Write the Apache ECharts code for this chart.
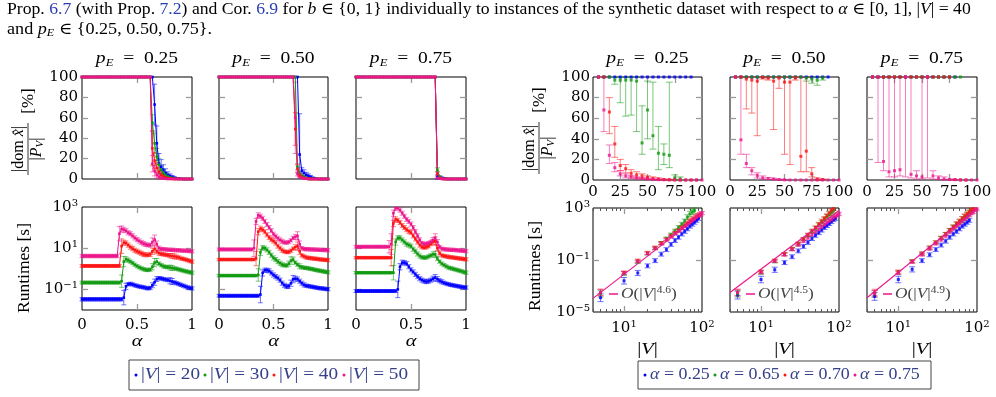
<!DOCTYPE html>
<html>
<head>
<meta charset="utf-8">
<script src="https://cdn.jsdelivr.net/npm/echarts@6/dist/echarts.min.js"></script>
<style>
  html, body { margin: 0; padding: 0; background: #fff; }
  #chart { width: 996px; height: 397px; }
</style>
</head>
<body>
<div id="chart"></div>
<script>
// ---- data: alpha grid (left panels) ----
const ALPHA = [0,0.02,0.04,0.06,0.08,0.1,0.12,0.14,0.16,0.18,0.2,0.22,0.24,0.26,0.28,0.3,0.32,0.34,0.36,0.38,
  0.4,0.42,0.44,0.46,0.48,0.5,0.52,0.54,0.56,0.58,0.6,0.62,0.64,0.66,0.68,0.7,0.72,0.74,0.76,0.78,
  0.8,0.82,0.84,0.86,0.88,0.9,0.92,0.94,0.96,0.98,1];

// dominated share [%], p_E = 0.25
const DOM_P25_V20 = [100,100,100,100,100,100,100,100,100,100, 100,100,100,100,100,100,100,100,100,100,
  100,100,100,100,100,100,100,100,100,100, 100,100,100,73,35,15,12,9,6,4, 3,2,1.2,0.7,0.4,0.2,0,0,0,0, 0];
const DOM_P25_V20_ERR = [0,0,0,0,0,0,0,0,0,0, 0,0,0,0,0,0,0,0,0,0, 0,0,0,0,0,0,0,0,0,0,
  0,0,0,20,17,10,7,5,4,3, 2,1.5,1,0.5,0.3,0.2,0,0,0,0, 0];
const DOM_P25_V30 = [100,100,100,100,100,100,100,100,100,100, 100,100,100,100,100,100,100,100,100,100,
  100,100,100,100,100,100,100,100,100,100, 100,100,55,35,22,14,9,6,4,2.5, 1.5,0.8,0.4,0.2,0,0,0,0,0,0, 0];
const DOM_P25_V30_ERR = [0,0,0,0,0,0,0,0,0,0, 0,0,0,0,0,0,0,0,0,0, 0,0,0,0,0,0,0,0,0,0,
  0,0,8,10,8,6,4,3,2,1.5, 1,0.5,0.3,0,0,0,0,0,0,0, 0];
const DOM_P25_V40 = [100,100,100,100,100,100,100,100,100,100, 100,100,100,100,100,100,100,100,100,100,
  100,100,100,100,100,100,100,100,100,100, 100,100,30,18,11,7,4,2.5,1.5,0.8, 0.4,0.2,0,0,0,0,0,0,0,0, 0];
const DOM_P25_V40_ERR = [0,0,0,0,0,0,0,0,0,0, 0,0,0,0,0,0,0,0,0,0, 0,0,0,0,0,0,0,0,0,0,
  0,0,17,8,5,4,3,2,1,0.5, 0.3,0,0,0,0,0,0,0,0,0, 0];
const DOM_P25_V50 = [100,100,100,100,100,100,100,100,100,100, 100,100,100,100,100,100,100,100,100,100,
  100,100,100,100,100,100,100,100,100,100, 100,100,15,8,4,2,1,0.5,0.2,0, 0,0,0,0,0,0,0,0,0,0, 0];
const DOM_P25_V50_ERR = [0,0,0,0,0,0,0,0,0,0, 0,0,0,0,0,0,0,0,0,0, 0,0,0,0,0,0,0,0,0,0,
  0,0,8,5,3,2,1,0.5,0,0, 0,0,0,0,0,0,0,0,0,0, 0];

// p_E = 0.50
const DOM_P50_V20 = [100,100,100,100,100,100,100,100,100,100, 100,100,100,100,100,100,100,100,100,100,
  100,100,100,100,100,100,100,100,100,100, 100,100,100,100,100,100,100,24,8,6, 4,3,2,1,0.5,0.2,0,0,0,0, 0];
const DOM_P50_V20_ERR = [0,0,0,0,0,0,0,0,0,0, 0,0,0,0,0,0,0,0,0,0, 0,0,0,0,0,0,0,0,0,0,
  0,0,0,0,0,0,0,40,3,3, 2.5,2,1.5,1,0.5,0.3,0,0,0,0, 0];
const DOM_P50_V30 = [100,100,100,100,100,100,100,100,100,100, 100,100,100,100,100,100,100,100,100,100,
  100,100,100,100,100,100,100,100,100,100, 100,100,100,100,100,100,12,5,3,2, 1,0.5,0,0,0,0,0,0,0,0, 0];
const DOM_P50_V30_ERR = [0,0,0,0,0,0,0,0,0,0, 0,0,0,0,0,0,0,0,0,0, 0,0,0,0,0,0,0,0,0,0,
  0,0,0,0,0,0,3,2,1.5,1, 0.5,0.3,0,0,0,0,0,0,0,0, 0];
const DOM_P50_V40 = [100,100,100,100,100,100,100,100,100,100, 100,100,100,100,100,100,100,100,100,100,
  100,100,100,100,100,100,100,100,100,100, 100,100,100,100,100,49,10,4,2,1, 0.5,0,0,0,0,0,0,0,0,0, 0];
const DOM_P50_V40_ERR = [0,0,0,0,0,0,0,0,0,0, 0,0,0,0,0,0,0,0,0,0, 0,0,0,0,0,0,0,0,0,0,
  0,0,0,0,0,16,4,2,1,0.5, 0.3,0,0,0,0,0,0,0,0,0, 0];
const DOM_P50_V50 = [100,100,100,100,100,100,100,100,100,100, 100,100,100,100,100,100,100,100,100,100,
  100,100,100,100,100,100,100,100,100,100, 100,100,100,100,100,60,5,2,1,0.5, 0.2,0,0,0,0,0,0,0,0,0, 0];
const DOM_P50_V50_ERR = [0,0,0,0,0,0,0,0,0,0, 0,0,0,0,0,0,0,0,0,0, 0,0,0,0,0,0,0,0,0,0,
  0,0,0,0,0,35,2,1,0.5,0.3, 0,0,0,0,0,0,0,0,0,0, 0];

// p_E = 0.75
const DOM_P75_V20 = [100,100,100,100,100,100,100,100,100,100, 100,100,100,100,100,100,100,100,100,100,
  100,100,100,100,100,100,100,100,100,100, 100,100,100,100,100,100,100,2,1.5,1, 0.5,0.2,0,0,0,0,0,0,0,0, 0];
const DOM_P75_V20_ERR = [0,0,0,0,0,0,0,0,0,0, 0,0,0,0,0,0,0,0,0,0, 0,0,0,0,0,0,0,0,0,0,
  0,0,0,0,0,0,0,2,1.5,1, 0.5,0.2,0,0,0,0,0,0,0,0, 0];
const DOM_P75_V30 = [100,100,100,100,100,100,100,100,100,100, 100,100,100,100,100,100,100,100,100,100,
  100,100,100,100,100,100,100,100,100,100, 100,100,100,100,100,100,100,9,2,0.5, 0,0,0,0,0,0,0,0,0,0, 0];
const DOM_P75_V30_ERR = [0,0,0,0,0,0,0,0,0,0, 0,0,0,0,0,0,0,0,0,0, 0,0,0,0,0,0,0,0,0,0,
  0,0,0,0,0,0,0,2,1,0.3, 0,0,0,0,0,0,0,0,0,0, 0];
const DOM_P75_V40 = [100,100,100,100,100,100,100,100,100,100, 100,100,100,100,100,100,100,100,100,100,
  100,100,100,100,100,100,100,100,100,100, 100,100,100,100,100,100,100,5,1,0.3, 0,0,0,0,0,0,0,0,0,0, 0];
const DOM_P75_V40_ERR = [0,0,0,0,0,0,0,0,0,0, 0,0,0,0,0,0,0,0,0,0, 0,0,0,0,0,0,0,0,0,0,
  0,0,0,0,0,0,0,2,0.5,0, 0,0,0,0,0,0,0,0,0,0, 0];
const DOM_P75_V50 = [100,100,100,100,100,100,100,100,100,100, 100,100,100,100,100,100,100,100,100,100,
  100,100,100,100,100,100,100,100,100,100, 100,100,100,100,100,100,100,1,0.3,0, 0,0,0,0,0,0,0,0,0,0, 0];
const DOM_P75_V50_ERR = [0,0,0,0,0,0,0,0,0,0, 0,0,0,0,0,0,0,0,0,0, 0,0,0,0,0,0,0,0,0,0,
  0,0,0,0,0,0,0,0.8,0.2,0, 0,0,0,0,0,0,0,0,0,0, 0];

// runtimes, log10 of seconds, p_E = 0.25
const RUN_P25_V20 = [-1.48,-1.48,-1.48,-1.48,-1.48,-1.48,-1.48,-1.48,-1.48,-1.48,
  -1.48,-1.48,-1.48,-1.48,-1.48,-1.48,-1.48,-1.48,-1.48,-1.4,
  -0.85,-0.75,-0.73,-0.76,-0.8,-0.83,-0.86,-0.88,-0.9,-0.93,
  -0.95,-0.93,-0.8,-0.65,-0.5,-0.46,-0.47,-0.5,-0.52,-0.55,
  -0.58,-0.62,-0.66,-0.7,-0.74,-0.78,-0.82,-0.86,-0.9,-0.93, -0.95];
const RUN_P25_V20_ERR = [0.08,0.08,0.08,0.08,0.08,0.08,0.08,0.08,0.08,0.08,
  0.08,0.08,0.08,0.08,0.08,0.08,0.08,0.08,0.08,0.35,
  0.15,0.08,0.08,0.08,0.08,0.08,0.08,0.08,0.08,0.08,
  0.08,0.08,0.12,0.15,0.12,0.08,0.08,0.08,0.08,0.08,
  0.15,0.15,0.08,0.08,0.08,0.08,0.08,0.08,0.08,0.08, 0.08];
const RUN_P25_V30 = [-0.67,-0.67,-0.67,-0.67,-0.67,-0.67,-0.67,-0.67,-0.67,-0.67,
  -0.67,-0.67,-0.67,-0.67,-0.67,-0.67,-0.67,-0.67,-0.6,0.35,
  0.46,0.42,0.35,0.28,0.2,0.13,0.07,0.02,-0.02,-0.05,
  -0.06,-0.04,0.1,0.3,0.35,0.25,0.18,0.12,0.09,0.08,
  0.06,0.04,0.02,0,-0.03,-0.06,-0.09,-0.12,-0.14,-0.17, -0.19];
const RUN_P25_V30_ERR = [0.07,0.07,0.07,0.07,0.07,0.07,0.07,0.07,0.07,0.07,
  0.07,0.07,0.07,0.07,0.07,0.07,0.07,0.07,0.3,0.25,
  0.12,0.1,0.08,0.08,0.08,0.08,0.08,0.08,0.08,0.08,
  0.08,0.08,0.15,0.2,0.15,0.08,0.08,0.08,0.08,0.08,
  0.12,0.12,0.08,0.08,0.08,0.08,0.08,0.08,0.08,0.08, 0.08];
const RUN_P25_V40 = [0.14,0.14,0.14,0.14,0.14,0.14,0.14,0.14,0.14,0.14,
  0.14,0.14,0.14,0.14,0.14,0.14,0.14,0.14,1.1,1.27,
  1.25,1.15,1.05,0.98,0.9,0.85,0.8,0.75,0.7,0.68,
  0.67,0.7,0.85,0.96,0.85,0.76,0.72,0.7,0.68,0.66,
  0.64,0.62,0.6,0.57,0.55,0.5,0.48,0.45,0.42,0.38, 0.35];
const RUN_P25_V40_ERR = [0.07,0.07,0.07,0.07,0.07,0.07,0.07,0.07,0.07,0.07,
  0.07,0.07,0.07,0.07,0.07,0.07,0.07,0.07,0.35,0.12,
  0.1,0.1,0.1,0.1,0.1,0.1,0.1,0.1,0.1,0.1,
  0.08,0.1,0.15,0.18,0.12,0.1,0.08,0.08,0.08,0.08,
  0.1,0.12,0.12,0.1,0.08,0.08,0.08,0.08,0.08,0.08, 0.08];
const RUN_P25_V50 = [0.62,0.62,0.62,0.62,0.62,0.62,0.62,0.62,0.62,0.62,
  0.62,0.62,0.62,0.62,0.62,0.62,0.62,1.7,1.93,1.9,
  1.85,1.75,1.7,1.6,1.5,1.42,1.35,1.28,1.22,1.18,
  1.15,1.15,1.3,1.42,1.2,1.0,0.96,0.95,0.94,0.93,
  0.92,0.92,0.91,0.9,0.9,0.89,0.88,0.88,0.87,0.86, 0.85];
const RUN_P25_V50_ERR = [0.08,0.08,0.08,0.08,0.08,0.08,0.08,0.08,0.08,0.08,
  0.08,0.08,0.08,0.08,0.08,0.08,0.08,0.35,0.15,0.12,
  0.1,0.1,0.1,0.1,0.1,0.1,0.1,0.1,0.1,0.1,
  0.08,0.1,0.2,0.22,0.15,0.1,0.08,0.08,0.08,0.08,
  0.08,0.08,0.08,0.08,0.08,0.08,0.08,0.08,0.08,0.08, 0.08];

// p_E = 0.50
const RUN_P50_V20 = [-1.31,-1.31,-1.31,-1.31,-1.31,-1.31,-1.31,-1.31,-1.31,-1.31,
  -1.31,-1.31,-1.31,-1.31,-1.31,-1.31,-1.31,-1.31,-1.31,-1.25,
  -0.2,-0.07,-0.07,-0.1,-0.2,-0.3,-0.38,-0.45,-0.55,-0.7,
  -0.8,-0.86,-0.85,-0.7,-0.5,-0.48,-0.5,-0.6,-0.7,-0.78,
  -0.82,-0.84,-0.86,-0.88,-0.9,-0.92,-0.94,-0.95,-0.96,-0.98, -0.99];
const RUN_P50_V20_ERR = [0.07,0.07,0.07,0.07,0.07,0.07,0.07,0.07,0.07,0.07,
  0.07,0.07,0.07,0.07,0.07,0.07,0.07,0.07,0.07,0.4,
  0.15,0.1,0.1,0.1,0.1,0.1,0.1,0.1,0.1,0.1,
  0.1,0.1,0.1,0.15,0.18,0.12,0.1,0.1,0.1,0.1,
  0.08,0.08,0.08,0.08,0.08,0.08,0.08,0.08,0.08,0.08, 0.08];
const RUN_P50_V30 = [-0.33,-0.33,-0.33,-0.33,-0.33,-0.33,-0.33,-0.33,-0.33,-0.33,
  -0.33,-0.33,-0.33,-0.33,-0.33,-0.33,-0.33,-0.33,-0.3,0.8,
  1.02,1.0,0.92,0.8,0.66,0.53,0.45,0.35,0.27,0.2,
  0.17,0.16,0.25,0.4,0.45,0.3,0.2,0.12,0.08,0.05,
  0.04,0.02,0,-0.02,-0.05,-0.07,-0.09,-0.11,-0.13,-0.15, -0.17];
const RUN_P50_V30_ERR = [0.06,0.06,0.06,0.06,0.06,0.06,0.06,0.06,0.06,0.06,
  0.06,0.06,0.06,0.06,0.06,0.06,0.06,0.06,0.3,0.15,
  0.1,0.1,0.1,0.1,0.1,0.1,0.1,0.1,0.1,0.1,
  0.08,0.08,0.12,0.18,0.12,0.08,0.08,0.12,0.08,0.08,
  0.08,0.08,0.08,0.08,0.08,0.08,0.08,0.08,0.08,0.08, 0.08];
const RUN_P50_V40 = [0.45,0.45,0.45,0.45,0.45,0.45,0.45,0.45,0.45,0.45,
  0.45,0.45,0.45,0.45,0.45,0.45,0.45,0.5,1.8,1.95,
  1.9,1.8,1.65,1.52,1.42,1.35,1.25,1.1,1.0,0.9,
  0.84,0.81,0.82,0.88,0.98,1.05,1.1,0.85,0.65,0.6,
  0.55,0.53,0.52,0.5,0.49,0.48,0.46,0.45,0.44,0.43, 0.42];
const RUN_P50_V40_ERR = [0.06,0.06,0.06,0.06,0.06,0.06,0.06,0.06,0.06,0.06,
  0.06,0.06,0.06,0.06,0.06,0.06,0.06,0.35,0.15,0.12,
  0.1,0.1,0.1,0.1,0.1,0.1,0.1,0.1,0.1,0.1,
  0.08,0.08,0.08,0.08,0.08,0.12,0.2,0.15,0.08,0.08,
  0.08,0.08,0.08,0.08,0.08,0.08,0.08,0.08,0.08,0.08, 0.08];
const RUN_P50_V50 = [0.94,0.94,0.94,0.94,0.94,0.94,0.94,0.94,0.94,0.94,
  0.94,0.94,0.94,0.94,0.94,0.94,1.0,2.3,2.6,2.55,
  2.45,2.3,2.15,2.0,1.85,1.68,1.58,1.48,1.4,1.33,
  1.28,1.27,1.3,1.38,1.5,1.55,1.6,1.2,1.0,0.96,
  0.95,0.95,0.94,0.94,0.93,0.93,0.92,0.92,0.91,0.91, 0.9];
const RUN_P50_V50_ERR = [0.07,0.07,0.07,0.07,0.07,0.07,0.07,0.07,0.07,0.07,
  0.07,0.07,0.07,0.07,0.07,0.07,0.4,0.15,0.12,0.1,
  0.1,0.1,0.1,0.1,0.1,0.1,0.1,0.1,0.1,0.1,
  0.08,0.08,0.08,0.08,0.08,0.12,0.2,0.15,0.08,0.08,
  0.08,0.08,0.08,0.08,0.08,0.08,0.08,0.08,0.08,0.08, 0.08];

// p_E = 0.75
const RUN_P75_V20 = [-1.08,-1.08,-1.08,-1.08,-1.08,-1.08,-1.08,-1.08,-1.08,-1.08,
  -1.08,-1.08,-1.08,-1.08,-1.08,-1.08,-1.08,-1.08,-1.08,-1.0,
  0.1,0.3,0.3,0.25,0.1,-0.05,-0.15,-0.27,-0.38,-0.48,
  -0.55,-0.6,-0.62,-0.6,-0.55,-0.48,-0.43,-0.5,-0.58,-0.63,
  -0.68,-0.72,-0.75,-0.78,-0.8,-0.82,-0.84,-0.86,-0.88,-0.9, -0.91];
const RUN_P75_V20_ERR = [0.07,0.07,0.07,0.07,0.07,0.07,0.07,0.07,0.07,0.07,
  0.07,0.07,0.07,0.07,0.07,0.07,0.07,0.07,0.07,0.4,
  0.15,0.12,0.1,0.1,0.1,0.1,0.1,0.1,0.1,0.1,
  0.1,0.1,0.1,0.1,0.1,0.12,0.15,0.12,0.1,0.1,
  0.08,0.08,0.08,0.08,0.08,0.08,0.08,0.08,0.08,0.08, 0.08];
const RUN_P75_V30 = [-0.19,-0.19,-0.19,-0.19,-0.19,-0.19,-0.19,-0.19,-0.19,-0.19,
  -0.19,-0.19,-0.19,-0.19,-0.19,-0.19,-0.19,-0.19,1.3,1.5,
  1.5,1.4,1.3,1.2,1.15,1.1,0.95,0.85,0.72,0.62,
  0.56,0.54,0.55,0.6,0.65,0.7,0.7,0.5,0.35,0.25,
  0.18,0.12,0.06,0.03,0,-0.03,-0.06,-0.09,-0.12,-0.16, -0.19];
const RUN_P75_V30_ERR = [0.06,0.06,0.06,0.06,0.06,0.06,0.06,0.06,0.06,0.06,
  0.06,0.06,0.06,0.06,0.06,0.06,0.06,0.35,0.15,0.1,
  0.1,0.1,0.1,0.1,0.1,0.1,0.1,0.1,0.1,0.1,
  0.08,0.08,0.08,0.08,0.08,0.12,0.15,0.1,0.08,0.08,
  0.08,0.08,0.08,0.08,0.08,0.08,0.08,0.08,0.08,0.08, 0.08];
const RUN_P75_V40 = [0.54,0.54,0.54,0.54,0.54,0.54,0.54,0.54,0.54,0.54,
  0.54,0.54,0.54,0.54,0.54,0.54,0.54,2.2,2.4,2.35,
  2.25,2.1,2.0,1.9,1.82,1.76,1.6,1.45,1.3,1.15,
  1.05,1.03,1.05,1.1,1.2,1.3,1.35,1.0,0.75,0.65,
  0.62,0.6,0.58,0.56,0.55,0.53,0.52,0.5,0.49,0.47, 0.46];
const RUN_P75_V40_ERR = [0.06,0.06,0.06,0.06,0.06,0.06,0.06,0.06,0.06,0.06,
  0.06,0.06,0.06,0.06,0.06,0.06,0.4,0.15,0.12,0.1,
  0.1,0.1,0.1,0.1,0.1,0.1,0.1,0.1,0.1,0.1,
  0.08,0.08,0.08,0.08,0.08,0.12,0.2,0.12,0.08,0.08,
  0.08,0.08,0.08,0.08,0.08,0.08,0.08,0.08,0.08,0.08, 0.08];
const RUN_P75_V50 = [1.07,1.07,1.07,1.07,1.07,1.07,1.07,1.07,1.07,1.07,
  1.07,1.07,1.07,1.07,1.07,1.07,1.2,2.7,2.95,2.95,
  2.85,2.7,2.55,2.4,2.3,2.17,2.0,1.8,1.6,1.4,
  1.25,1.2,1.22,1.25,1.3,1.4,1.5,1.3,1.05,0.98,
  0.95,0.94,0.93,0.92,0.92,0.91,0.9,0.89,0.88,0.87, 0.86];
const RUN_P75_V50_ERR = [0.07,0.07,0.07,0.07,0.07,0.07,0.07,0.07,0.07,0.07,
  0.07,0.07,0.07,0.07,0.07,0.3,0.5,0.15,0.1,0.1,
  0.1,0.1,0.1,0.1,0.1,0.1,0.1,0.1,0.1,0.1,
  0.08,0.08,0.08,0.08,0.08,0.12,0.2,0.12,0.08,0.08,
  0.08,0.08,0.08,0.08,0.08,0.08,0.08,0.08,0.08,0.08, 0.08];

// ---- data: |V| grid (right panels) ----
const V_SIZES = [5,10,15,20,25,30,35,40,45,50,55,60,65,70,75,80,85,90,95,100];

// dominated share [%] with lower / upper bar ends
const FRAC_P25_A25 = [100,100,100,100,100,100,100,100,100,100,100,100,100,100,100,100,100,100,null,null];
const FRAC_P25_A65 = [100,100,100,97,97,97,97,96,36,68,43,26,25,24,2,1,null,null,null,null];
const FRAC_P25_A65_LO = [100,100,100,93,75,62,63,47,25,40,30,10,15,12,0,0,null,null,null,null];
const FRAC_P25_A65_HI = [100,100,100,100,100,100,100,100,72,96,95,52,35,95,5,3,null,null,null,null];
const FRAC_P25_A70 = [100,100,66,35,14,11,6.5,5,4,2.5,1.5,1,0.5,0.3,0.2,0,0,0,0,null];
const FRAC_P25_A70_LO = [100,100,45,22,9,7,3,2,1.5,1,0.5,0.3,0,0,0,0,0,0,0,null];
const FRAC_P25_A70_HI = [100,100,80,52,20,15,10,8,6,4,3,2,1,0.6,0.4,0,0,0,0,null];
const FRAC_P25_A75 = [100,68,24,12,6,4,3,2,1.5,1,0.5,0.3,0.2,0.1,0,0,0,0,0,0];
const FRAC_P25_A75_LO = [100,47,16,8,4,2,1.5,1,0.5,0.3,0.2,0.1,0,0,0,0,0,0,0,0];
const FRAC_P25_A75_HI = [100,100,34,17,9,6,4.5,3,2.5,1.7,1,0.6,0.4,0.2,0,0,0,0,0,0];

const FRAC_P50_A25 = [100,100,100,100,100,100,100,100,100,100,100,100,100,100,100,100,100,100,null,null];
const FRAC_P50_A65 = [100,100,100,100,100,100,100,100,100,100,100,100,100,99,98,97,99,null,null,null];
const FRAC_P50_A65_LO = [100,100,100,100,100,100,100,100,100,100,100,100,100,96,94,92,97,null,null,null];
const FRAC_P50_A65_HI = [100,100,100,100,100,100,100,100,100,100,100,100,100,100,100,100,100,null,null,null];
const FRAC_P50_A70 = [100,100,98,97,96,99.5,99,96,99,95,95,99,23,28,6,1,0.5,null,null,null];
const FRAC_P50_A70_LO = [100,100,69,65,43,98,97,49,89,25,15,97,8,8,3,0,0,null,null,null];
const FRAC_P50_A70_HI = [100,100,100,100,100,100,100,100,100,100,100,100,100,100,12,2,1,null,null,null];
const FRAC_P50_A75 = [100,39,16,9,4.5,2,1.5,1,0.5,0.2,0,0,0,0,0,0,0,0,0,0];
const FRAC_P50_A75_LO = [100,25,12,5,2,1,0.5,0.3,0.1,0,0,0,0,0,0,0,0,0,0,0];
const FRAC_P50_A75_HI = [100,100,25,12,7,4,2.5,1.7,1,0.5,0,0,0,0,0,0,0,0,0,0];

const FRAC_P75_A25 = [100,100,100,100,100,100,100,100,100,100,100,100,100,100,100,100,null,null,null,null];
const FRAC_P75_A65 = [100,100,100,100,100,100,100,100,100,100,100,100,100,100,100,100,100,null,null,null];
const FRAC_P75_A70 = [100,100,100,100,100,100,100,100,100,100,100,100,100,100,100,0.5,0.2,0,null,null];
const FRAC_P75_A75 = [100,100,18,8,9,10,100,5.5,4,3,100,4,2,1,0.5,0.3,0,0,0,0];
const FRAC_P75_A75_LO = [100,17,9,3,3,4,3,2,1,1,2,1,0.5,0.2,0,0,0,0,0,0];
const FRAC_P75_A75_HI = [100,100,100,100,100,100,100,100,9,100,100,9,4,3,1,0.5,0,0,0,0];

// runtimes vs |V|, log10 of seconds
const TIME_P25_A25 = [-3.9,-2.6,-2.0,-1.45,-1.05,-0.55,-0.2,0.2,0.5,0.75,1.0,1.2,1.4,1.6,1.75,1.9,2.05,2.2,null,null];
const TIME_P25_A65 = [-3.6,-2.05,-1.15,-0.5,-0.1,0.3,0.65,0.95,1.25,1.5,1.75,2.0,2.3,2.55,2.7,2.8,null,null,null,null];
const TIME_P25_A70 = [-3.5,-1.97,-1.05,-0.45,-0.05,0.3,0.6,0.87,1.1,1.3,1.5,1.67,1.83,1.98,2.1,2.22,2.33,2.43,2.53,null];
const TIME_P25_A75 = [-3.5,-2.0,-1.1,-0.5,-0.1,0.25,0.55,0.8,1.05,1.25,1.45,1.6,1.75,1.9,2.05,2.15,2.3,2.4,2.5,2.6];
const TIME_P50_A25 = [-3.7,-2.5,-1.75,-1.2,-0.75,-0.3,0.05,0.35,0.65,0.9,1.1,1.3,1.5,1.65,1.8,1.95,2.1,2.2,null,null];
const TIME_P50_A65 = [-3.6,-1.95,-1.1,-0.55,-0.15,0.25,0.6,0.9,1.2,1.45,1.7,1.9,2.1,2.3,2.5,2.65,2.8,null,null,null];
const TIME_P50_A70 = [-3.5,-1.9,-1.05,-0.55,-0.15,0.25,0.6,0.95,1.25,1.5,1.75,2.0,2.2,2.4,2.6,2.8,2.95,null,null,null];
const TIME_P50_A75 = [-3.5,-1.95,-1.1,-0.6,-0.2,0.15,0.45,0.7,0.95,1.15,1.35,1.55,1.7,1.85,2.0,2.1,2.25,2.35,2.45,2.55];
const TIME_P75_A25 = [-3.8,-2.5,-1.72,-1.05,-0.6,-0.2,0.15,0.45,0.75,1.0,1.2,1.4,1.6,1.75,1.9,2.05,null,null,null,null];
const TIME_P75_A65 = [-3.6,-1.95,-1.1,-0.5,-0.05,0.35,0.7,1.0,1.3,1.55,1.75,1.95,2.15,2.3,2.45,2.6,2.75,null,null,null];
const TIME_P75_A70 = [-3.5,-1.9,-1.1,-0.5,-0.05,0.35,0.7,1.0,1.3,1.55,1.8,2.0,2.2,2.4,2.55,2.7,2.85,2.95,null,null];
const TIME_P75_A75 = [-3.6,-2.0,-1.15,-0.6,-0.15,0.25,0.55,0.85,1.15,1.4,1.6,1.8,2.0,2.15,2.3,2.45,2.6,2.7,2.85,2.95];
const TIME_ERR_A25 = [0.3,0.25,0.2,0.15,0.15,0.15,0.15,0.15,0.15,0.15,0.15,0.15,0.15,0.15,0.15,0.15,0.15,0.15,0.15,0.15];
const TIME_ERR_A65 = [0.25,0.15,0.12,0.12,0.12,0.12,0.12,0.12,0.12,0.15,0.15,0.15,0.18,0.2,0.2,0.2,0.2,0.2,0.2,0.2];
const TIME_ERR_A70 = [0.25,0.12,0.12,0.12,0.12,0.12,0.12,0.12,0.12,0.12,0.15,0.15,0.15,0.15,0.15,0.15,0.15,0.15,0.15,0.15];
const TIME_ERR_A75 = [0.25,0.12,0.1,0.1,0.1,0.1,0.1,0.1,0.1,0.12,0.12,0.12,0.12,0.12,0.12,0.12,0.12,0.12,0.12,0.12];

// fitted power laws: end points at |V| = 4 and 100 (log10 seconds)
const FIT_V = [4, 100];
const FIT_P25 = [-3.95, 2.55];
const FIT_P50 = [-3.5, 2.8];
const FIT_P75 = [-3.9, 2.95];
const FIT_EXP = ['4.6', '4.5', '4.9'];

const P_LABELS = ['0.25', '0.50', '0.75'];
const V_LEGEND = ['20', '30', '40', '50'];
const A_LEGEND = ['0.25', '0.65', '0.70', '0.75'];
const DOM_TICKS = [0, 20, 40, 60, 80, 100];
const SIZE_TICKS = [0, 25, 50, 75, 100];
const MINOR_V = [4, 5, 6, 7, 8, 9, 20, 30, 40, 50, 60, 70, 80, 90];

// ---- styles ----
const FONT = '"Liberation Serif", "DejaVu Serif", serif';
const TICK_FONT = '"DejaVu Serif", serif';
const INK = '#000';
const LINK = '#2b3fb3';
const LEGEND_INK = '#36408a';
const COLORS = ['#0000ff', '#109a10', '#ff1414', '#ec168c'];
const TICK_GRAY = '#9a9a9a';
const WIDE = 1.2;   // reference text runs wide

function tok(size, extra) {
  return Object.assign({fontFamily: FONT, fontSize: size, color: INK, fill: INK}, extra || {});
}
const RICH = {
  a: tok(15, {fontFamily: TICK_FONT, lineHeight: 18}),
  asup: tok(10, {fontFamily: TICK_FONT, lineHeight: 11, verticalAlign: 'top'}),
  n: tok(17, {lineHeight: 20}),
  i: tok(17, {lineHeight: 20, fontStyle: 'italic'}),
  sub: tok(11, {lineHeight: 10, fontStyle: 'italic', verticalAlign: 'bottom'}),
  ci: tok(16.5, {fontStyle: 'italic'}),
  cl: tok(16.5, {color: LINK, fill: LINK}),
  csub: tok(11, {lineHeight: 9, fontStyle: 'italic', verticalAlign: 'bottom'}),
  t: tok(16, {lineHeight: 17}),
  ti: tok(16, {lineHeight: 17, fontStyle: 'italic'}),
  tsub: tok(11, {lineHeight: 9, fontStyle: 'italic', verticalAlign: 'bottom'}),
  g: tok(16, {lineHeight: 20, color: LEGEND_INK, fill: LEGEND_INK}),
  gi: tok(16, {lineHeight: 20, fontStyle: 'italic', color: LEGEND_INK, fill: LEGEND_INK}),
  f: tok(15, {lineHeight: 18, color: '#444', fill: '#444'}),
  fi: tok(15, {lineHeight: 18, fontStyle: 'italic', color: '#444', fill: '#444'}),
  fsup: tok(10, {lineHeight: 10, verticalAlign: 'top', color: '#444', fill: '#444'})
};

const numFmt = v => '{a|' + v + '}';
const powFmt = v => '{a|10}{asup|' + (v < 0 ? '\u2212' + (-v) : v) + '}';

// ---- layout builders ----
const grids = [], xAxes = [], yAxes = [], series = [];

function addGrid(left, top, width, height) {
  grids.push({left, top, width, height, show: true, borderColor: '#000', borderWidth: 1,
    backgroundColor: 'rgba(0,0,0,0)'});
  return grids.length - 1;
}

function addAxis(list, g, position, min, max, ticks, labels, fmt, margin, tick) {
  tick = tick || {};
  list.push({
    type: 'value', gridIndex: g, position, min, max,
    axisLine: {show: false, onZero: false},
    splitLine: {show: false},
    axisTick: ticks ? {show: true, inside: true, customValues: ticks, length: tick.len || 6,
      lineStyle: {color: tick.color || TICK_GRAY, width: tick.width || 1.3}} : {show: false},
    axisLabel: labels ? {show: true, customValues: labels, formatter: fmt, margin,
      color: INK, fontFamily: TICK_FONT, fontSize: 15, rich: RICH} : {show: false},
    axisPointer: {show: false}
  });
  return list.length - 1;
}

function errorSeries(xi, yi, rows, color, cap) {
  return {
    type: 'custom', xAxisIndex: xi, yAxisIndex: yi, data: rows, silent: true, animation: false,
    encode: {x: 0, y: [1, 2]},
    renderItem(params, api) {
      const cs = params.coordSys;
      const x = api.value(0), lo = api.value(1), hi = api.value(2);
      const pTop = api.coord([x, hi]), pBot = api.coord([x, lo]);
      const yMin = cs.y, yMax = cs.y + cs.height;
      const y1 = Math.max(yMin, pTop[1]), y2 = Math.min(yMax, pBot[1]);
      if (y2 - y1 < 0.5) return null;
      const st = {stroke: color, lineWidth: 1, opacity: 0.55};
      const kids = [{type: 'line', shape: {x1: pTop[0], y1, x2: pTop[0], y2}, style: st}];
      if (pTop[1] >= yMin - 0.5) kids.push({type: 'line', shape: {x1: pTop[0] - cap, y1: pTop[1], x2: pTop[0] + cap, y2: pTop[1]}, style: st});
      if (pBot[1] <= yMax + 0.5) kids.push({type: 'line', shape: {x1: pBot[0] - cap, y1: pBot[1], x2: pBot[0] + cap, y2: pBot[1]}, style: st});
      return {type: 'group', children: kids};
    }
  };
}

function markSeries(xi, yi, pts, color, joined) {
  const s = {
    type: joined ? 'line' : 'scatter', xAxisIndex: xi, yAxisIndex: yi, data: pts, symbol: 'rect',
    symbolSize: joined ? 2.6 : 3, clip: false, silent: true, animation: false, itemStyle: {color}
  };
  if (joined) Object.assign(s, {showSymbol: true, showAllSymbol: true, lineStyle: {color, width: 1}});
  return s;
}

// a panel: grid, four axes, error bars and marks per series
function addPanel(box, xr, yr, xTicks, yTicks, xLabels, xFmt, xMargin, yLabels, yFmt, yMargin, curves, cap, joined) {
  const g = addGrid(box[0], box[1], box[2], box[3]);
  const xb = addAxis(xAxes, g, 'bottom', xr[0], xr[1], xTicks, xLabels, xFmt, xMargin);
  addAxis(xAxes, g, 'top', xr[0], xr[1], xTicks, null);
  const yl = addAxis(yAxes, g, 'left', yr[0], yr[1], yTicks, yLabels, yFmt, yMargin);
  addAxis(yAxes, g, 'right', yr[0], yr[1], yTicks, null);
  curves.forEach((c, k) => {
    const pts = [], rows = [];
    c.x.forEach((x, i) => {
      const v = c.y[i];
      if (v === null || v === undefined) return;
      pts.push([x, v]);
      let lo = null, hi = null;
      if (c.err) { lo = v - c.err[i]; hi = v + c.err[i]; }
      else if (c.lo) { lo = c.lo[i]; hi = c.hi[i]; }
      if (lo !== null && hi > lo) rows.push([x, lo, hi]);
    });
    if (rows.length) series.push(errorSeries(xb, yl, rows, COLORS[k], cap));
    series.push(markSeries(xb, yl, pts, COLORS[k], joined));
  });
  return {g, xb, yl};
}

const LEFT_COLS = [[82, 110], [219, 109], [356, 110]];
const RIGHT_COLS = [[593, 109], [730, 109], [867, 110]];

const DOM = [
  [[DOM_P25_V20, DOM_P25_V20_ERR], [DOM_P25_V30, DOM_P25_V30_ERR], [DOM_P25_V40, DOM_P25_V40_ERR], [DOM_P25_V50, DOM_P25_V50_ERR]],
  [[DOM_P50_V20, DOM_P50_V20_ERR], [DOM_P50_V30, DOM_P50_V30_ERR], [DOM_P50_V40, DOM_P50_V40_ERR], [DOM_P50_V50, DOM_P50_V50_ERR]],
  [[DOM_P75_V20, DOM_P75_V20_ERR], [DOM_P75_V30, DOM_P75_V30_ERR], [DOM_P75_V40, DOM_P75_V40_ERR], [DOM_P75_V50, DOM_P75_V50_ERR]]
];
const RUN = [
  [[RUN_P25_V20, RUN_P25_V20_ERR], [RUN_P25_V30, RUN_P25_V30_ERR], [RUN_P25_V40, RUN_P25_V40_ERR], [RUN_P25_V50, RUN_P25_V50_ERR]],
  [[RUN_P50_V20, RUN_P50_V20_ERR], [RUN_P50_V30, RUN_P50_V30_ERR], [RUN_P50_V40, RUN_P50_V40_ERR], [RUN_P50_V50, RUN_P50_V50_ERR]],
  [[RUN_P75_V20, RUN_P75_V20_ERR], [RUN_P75_V30, RUN_P75_V30_ERR], [RUN_P75_V40, RUN_P75_V40_ERR], [RUN_P75_V50, RUN_P75_V50_ERR]]
];
const FRAC = [
  [{y: FRAC_P25_A25}, {y: FRAC_P25_A65, lo: FRAC_P25_A65_LO, hi: FRAC_P25_A65_HI},
   {y: FRAC_P25_A70, lo: FRAC_P25_A70_LO, hi: FRAC_P25_A70_HI}, {y: FRAC_P25_A75, lo: FRAC_P25_A75_LO, hi: FRAC_P25_A75_HI}],
  [{y: FRAC_P50_A25}, {y: FRAC_P50_A65, lo: FRAC_P50_A65_LO, hi: FRAC_P50_A65_HI},
   {y: FRAC_P50_A70, lo: FRAC_P50_A70_LO, hi: FRAC_P50_A70_HI}, {y: FRAC_P50_A75, lo: FRAC_P50_A75_LO, hi: FRAC_P50_A75_HI}],
  [{y: FRAC_P75_A25}, {y: FRAC_P75_A65}, {y: FRAC_P75_A70}, {y: FRAC_P75_A75, lo: FRAC_P75_A75_LO, hi: FRAC_P75_A75_HI}]
];
const TIME = [
  [TIME_P25_A25, TIME_P25_A65, TIME_P25_A70, TIME_P25_A75],
  [TIME_P50_A25, TIME_P50_A65, TIME_P50_A70, TIME_P50_A75],
  [TIME_P75_A25, TIME_P75_A65, TIME_P75_A70, TIME_P75_A75]
];
const TIME_ERR = [TIME_ERR_A25, TIME_ERR_A65, TIME_ERR_A70, TIME_ERR_A75];
const FITS = [FIT_P25, FIT_P50, FIT_P75];

const LOG_V = V_SIZES.map(v => Math.log10(v));
const LOG_VMIN = Math.log10(4);

for (let k = 0; k < 3; k++) {
  const [lx, lw] = LEFT_COLS[k];
  const [rx, rw] = RIGHT_COLS[k];
  // left, top row: dominated share vs alpha
  addPanel([lx, 77, lw, 102], [0, 1], [0, 100], [0.5], [20, 40, 60, 80],
    null, null, 0, k === 0 ? DOM_TICKS : null, numFmt, 4,
    DOM[k].map(([y, err]) => ({x: ALPHA, y, err})), 2.5, true);
  // left, bottom row: runtimes vs alpha
  addPanel([lx, 207, lw, 103], [0, 1], [-2, 3], [0.5], [-1, 1],
    [0, 0.5, 1], numFmt, 6, k === 0 ? [-1, 1, 3] : null, powFmt, 4,
    RUN[k].map(([y, err]) => ({x: ALPHA, y, err})), 2.5, true);
  // right, top row: dominated share vs |V|
  addPanel([rx, 77, rw, 103], [0, 100], [0, 100], [25, 50, 75], [20, 40, 60, 80],
    SIZE_TICKS, numFmt, 3, k === 0 ? DOM_TICKS : null, numFmt, 3,
    FRAC[k].map(c => Object.assign({x: V_SIZES}, c)), 3.5, false);
  // right, bottom row: runtimes vs |V| (log-log)
  const p = addPanel([rx, 208, rw, 104], [LOG_VMIN, 2], [-5, 3], [1], [-1],
    [1, 2], powFmt, 7, k === 0 ? [-5, -1, 3] : null, powFmt, 3,
    TIME[k].map((y, s) => ({x: LOG_V, y, err: TIME_ERR[s]})), 3, false);
  // log minor ticks along |V|
  const minor = MINOR_V.map(v => Math.log10(v));
  addAxis(xAxes, p.g, 'bottom', LOG_VMIN, 2, minor, null, null, 0, {len: 3, color: '#555', width: 1});
  addAxis(xAxes, p.g, 'top', LOG_VMIN, 2, minor, null, null, 0, {len: 3, color: '#555', width: 1});
  // power-law fit
  series.push({
    type: 'line', xAxisIndex: p.xb, yAxisIndex: p.yl, symbol: 'none', silent: true, animation: false,
    data: FIT_V.map((v, i) => [Math.log10(v), FITS[k][i]]),
    lineStyle: {color: COLORS[3], width: 1.2}
  });
}

// ---- text and decorations ----
const G = [];
function text(x, y, str, align, size, sx) {
  return {type: 'text', x, y, scaleX: sx || 1, silent: true, style: {
    text: str, rich: RICH, font: size + 'px ' + FONT, fill: INK,
    align, textAlign: align, verticalAlign: 'middle', textVerticalAlign: 'middle'}};
}

G.push(text(7, 10, 'Prop. {cl|6.7} (with Prop. {cl|7.2}) and Cor. {cl|6.9} for {ci|b} \u2208 {0, 1} individually to instances of the synthetic dataset with respect to {ci|\u03b1} \u2208 [0, 1], |{ci|V}| = 40', 'left', 16.5, 1.07));
G.push(text(7, 30, 'and {ci|p}{csub|E} \u2208 {0.25, 0.50, 0.75}.', 'left', 16.5, 1.1));

for (let k = 0; k < 3; k++) {
  const [lx, lw] = LEFT_COLS[k];
  const [rx, rw] = RIGHT_COLS[k];
  const title = '{i|p}{sub|E}{n|\u2002=\u2002' + P_LABELS[k] + '}';
  G.push(text(lx + lw / 2, 59, title, 'center', 17, 1.15));
  G.push(text(rx + rw / 2, 59, title, 'center', 17, 1.15));
  G.push(text(lx + lw / 2, 342, '{i|\u03b1}', 'center', 17, WIDE));
  G.push(text(rx + rw / 2, 350, '{n||}{i|V}{n||}', 'center', 17, WIDE));
  // fit legend inside the log-log panels
  G.push({type: 'line', silent: true, shape: {x1: rx + 16, y1: 294, x2: rx + 25, y2: 294},
    style: {stroke: COLORS[3], lineWidth: 1.5}});
  G.push(text(rx + 28, 294, '{fi|O}{f|(|}{fi|V}{f||}{fsup|' + FIT_EXP[k] + '}{f|)}', 'left', 15, 1.15));
}

function domTitle(cx, cy) {
  return {type: 'group', x: cx, y: cy, rotation: Math.PI / 2, silent: true, children: [
    text(-18, -9, '{t||dom }{ti|x\u0302}{t||}', 'center', 16),
    {type: 'line', shape: {x1: -44, y1: 0, x2: 8, y2: 0}, style: {stroke: INK, lineWidth: 0.8}},
    text(-18, 9, '{t||}{ti|P}{tsub|V}{t||}', 'center', 16),
    text(30, 1, '[%]', 'center', 17)
  ]};
}
function runTitle(cx, cy) {
  return {type: 'group', x: cx, y: cy, rotation: Math.PI / 2, silent: true,
    children: [text(0, 0, 'Runtimes [s]', 'center', 17.5)]};
}
G.push(domTitle(28, 131), domTitle(539, 130), runTitle(24, 268), runTitle(535, 266));

function legend(x, y, w, h, bullets, labels, sx) {
  G.push({type: 'rect', silent: true, shape: {x, y, width: w, height: h},
    style: {fill: '#fff', stroke: '#444', lineWidth: 1}});
  bullets.forEach((bx, k) => {
    G.push({type: 'circle', silent: true, shape: {cx: bx, cy: y + h / 2, r: 1.5}, style: {fill: COLORS[k]}});
    G.push(text(bx + 5, y + h / 2, labels[k], 'left', 16, sx));
  });
}
legend(129, 360, 290, 30, [136, 205, 274, 344], V_LEGEND.map(v => '{g||}{gi|V}{g|| = ' + v + '}'), 1.2);
legend(638, 361, 293, 28, [645, 715, 785, 855], A_LEGEND.map(a => '{gi|\u03b1}{g| = ' + a + '}'), 1.12);

const chart = echarts.init(document.getElementById('chart'), null, {renderer: 'canvas'});
chart.setOption({
  animation: false,
  backgroundColor: '#fff',
  grid: grids,
  xAxis: xAxes,
  yAxis: yAxes,
  series: series,
  graphic: G
});
</script>
</body>
</html>
